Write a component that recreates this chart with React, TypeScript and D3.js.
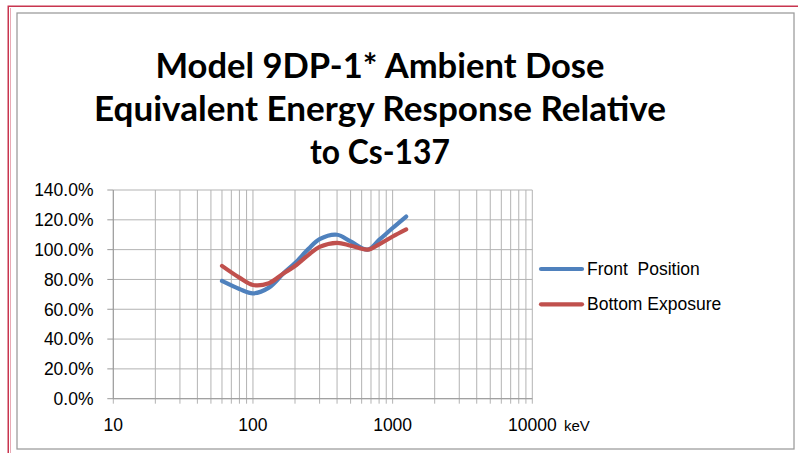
import React from "react";
import * as d3 from "d3";

const titleLines = [
  "Model 9DP-1* Ambient Dose",
  "Equivalent Energy Response Relative",
  "to Cs-137",
];
const energiesKeV = [60, 80, 100, 130, 165, 200, 250, 300, 400, 500, 662, 800, 1000, 1250];
const frontPosition = [0.79, 0.736, 0.707, 0.745, 0.84, 0.91, 1.005, 1.07, 1.1, 1.055, 1.0, 1.065, 1.145, 1.222];
const bottomExposure = [0.891, 0.812, 0.763, 0.775, 0.84, 0.89, 0.965, 1.018, 1.045, 1.027, 1.0, 1.036, 1.088, 1.136];
const seriesNames = ["Front  Position", "Bottom Exposure"];
const seriesColors = ["#4F81BD", "#C0504D"];
const xTickLabels = [10, 100, 1000, 10000];
const yTicks = [0, 0.2, 0.4, 0.6, 0.8, 1.0, 1.2, 1.4];
const xUnit = "keV";

const W = 798;
const H = 453;
const labelFont = "'Liberation Sans', Arial, sans-serif";

export default function App() {
  const x = d3.scaleLog().domain([10, 10000]).range([113.3, 532.3]);
  const y = d3.scaleLinear().domain([0, 1.4]).range([398.7, 190]);
  const gridX = x.ticks();
  const line = d3
    .line<number>()
    .x((_, i) => x(energiesKeV[i]))
    .y((d) => y(d))
    .curve(d3.curveCatmullRom.alpha(0.5));
  const series = [frontPosition, bottomExposure];
  const titleWidths = [449, 572, 140];
  const titleBase = [78, 121, 164];
  const fmt = d3.format(".1%");

  return (
    <svg
      width={W}
      height={H}
      style={{ position: "absolute", left: 0, top: 0, background: "#fff" }}
    >
      <rect x={0} y={0} width={W} height={H} fill="#fff" />
      {/* outer red page border */}
      <rect x={8.25} y={6.25} width={W + 10} height={H + 10} fill="none" stroke="#C8354F" strokeWidth={1.5} />
      <line x1={10.5} y1={8} x2={10.5} y2={H} stroke="#E9A9B4" strokeWidth={1} />
      {/* chart area border */}
      <rect x={17} y={13} width={777} height={436} fill="#fff" stroke="#9A9A9A" strokeWidth={1.25} />

      {/* title */}
      {titleLines.map((t, i) => (
        <text
          key={t}
          x={380}
          y={titleBase[i]}
          textAnchor="middle"
          fontFamily="Lato, 'Open Sans', sans-serif"
          fontWeight={700}
          fontSize={34}
          textLength={titleWidths[i]}
          lengthAdjust="spacingAndGlyphs"
          fill="#000"
        >
          {t}
        </text>
      ))}

      {/* gridlines */}
      {yTicks.map((v) => (
        <line key={"gy" + v} x1={x(10)} x2={x(10000)} y1={y(v)} y2={y(v)} stroke="#B3B3B3" strokeWidth={1} />
      ))}
      {gridX.map((v) => (
        <line key={"gx" + v} x1={x(v)} x2={x(v)} y1={y(1.4)} y2={y(0) + 5} stroke="#B3B3B3" strokeWidth={1} />
      ))}
      {yTicks.map((v) => (
        <line key={"ty" + v} x1={x(10) - 6} x2={x(10)} y1={y(v)} y2={y(v)} stroke="#9A9A9A" strokeWidth={1} />
      ))}
      <line x1={x(10)} x2={x(10000)} y1={y(0)} y2={y(0)} stroke="#9A9A9A" strokeWidth={1} />
      <line x1={x(10)} x2={x(10)} y1={y(1.4)} y2={y(0)} stroke="#9A9A9A" strokeWidth={1} />

      {/* y labels */}
      {yTicks.map((v) => (
        <text
          key={"ly" + v}
          x={93.5}
          y={y(v) + 6.3}
          textAnchor="end"
          fontFamily={labelFont}
          fontSize={17.5}
          fill="#000"
        >
          {fmt(v)}
        </text>
      ))}
      {/* x labels */}
      {xTickLabels.map((v) => (
        <text
          key={"lx" + v}
          x={x(v)}
          y={431}
          textAnchor="middle"
          fontFamily={labelFont}
          fontSize={17.5}
          fill="#000"
        >
          {v}
        </text>
      ))}
      <text x={564} y={431} fontFamily={labelFont} fontSize={15} fill="#000">
        {xUnit}
      </text>

      {/* series */}
      {series.map((s, i) => (
        <path
          key={"s" + i}
          d={line(s) || ""}
          fill="none"
          stroke={seriesColors[i]}
          strokeWidth={4.2}
          strokeLinecap="round"
          strokeLinejoin="round"
        />
      ))}

      {/* legend */}
      {seriesNames.map((n, i) => (
        <g key={"lg" + i}>
          <line
            x1={541}
            x2={582}
            y1={269 + i * 35.3}
            y2={269 + i * 35.3}
            stroke={seriesColors[i]}
            strokeWidth={4.2}
            strokeLinecap="round"
          />
          <text
            x={587}
            y={275 + i * 35.3}
            fontFamily={labelFont}
            fontSize={17.5}
            fill="#000"
            style={{ whiteSpace: "pre" }}
          >
            {n}
          </text>
        </g>
      ))}
    </svg>
  );
}
